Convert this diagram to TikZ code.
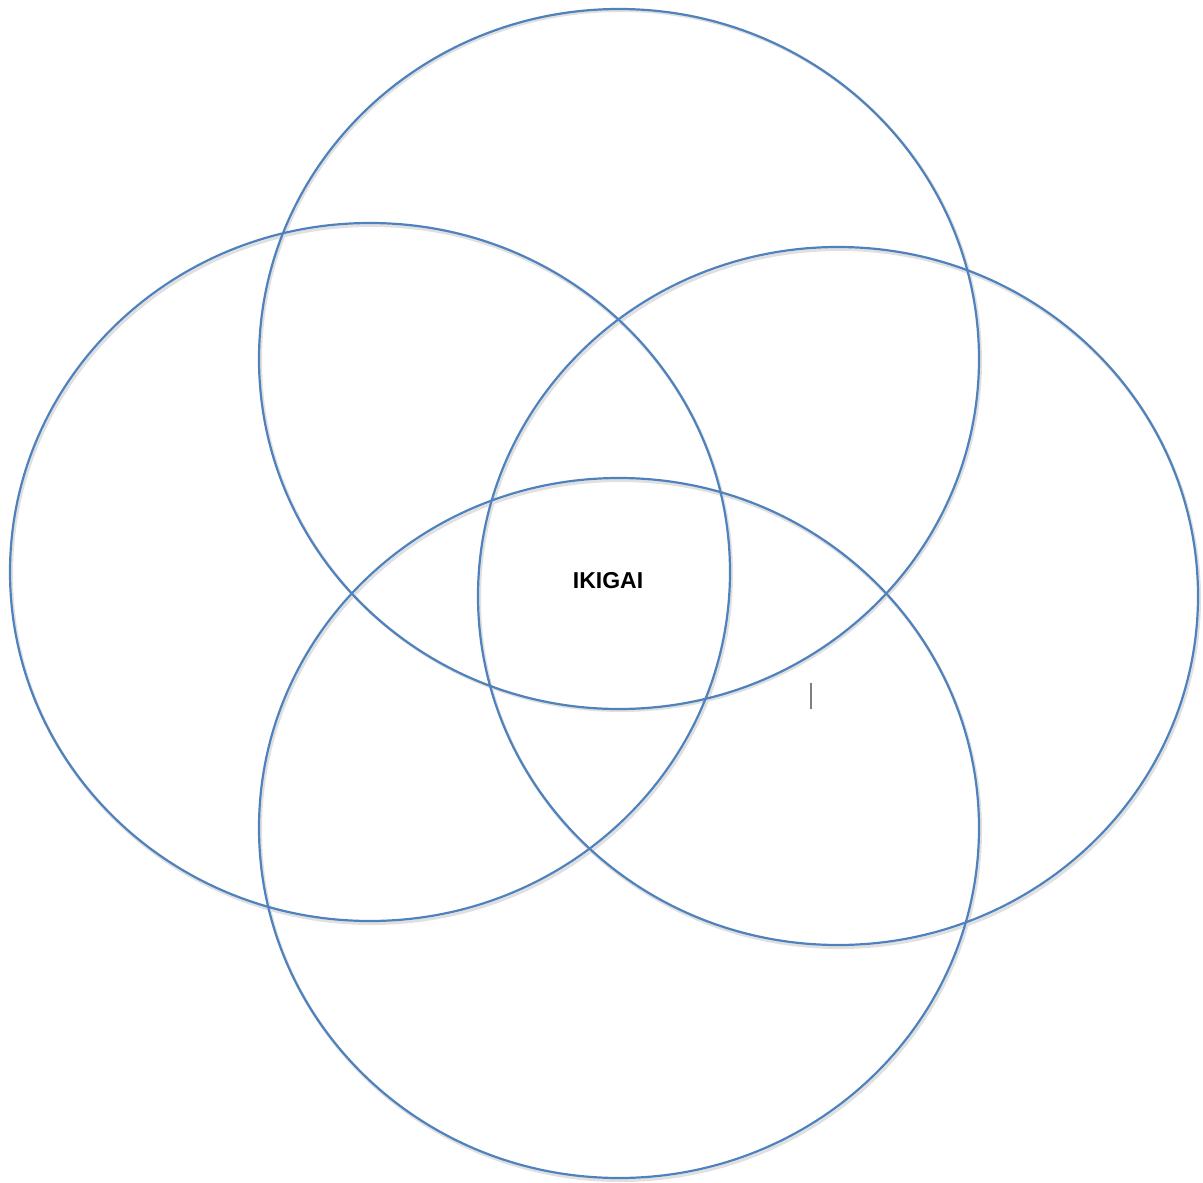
\documentclass[tikz,border=0pt]{standalone}
\usepackage{fontspec}
\setmainfont{Liberation Sans}
\definecolor{ringblue}{HTML}{4F81BD}
\begin{document}
\begin{tikzpicture}[x=1pt,y=-1pt,
  ring/.style={draw=ringblue,line width=2.2pt},
  ringshadow/.style={draw=black!12,line width=3pt},
  label/.style={font=\fontsize{23}{26}\selectfont\bfseries,inner sep=0pt}]
\useasboundingbox (0,0) rectangle (1203,1183);
% shadows
\draw[ringshadow] (620.5,360.5) ellipse [x radius=360,y radius=350];
\draw[ringshadow] (371.5,574.5) ellipse [x radius=360,y radius=349];
\draw[ringshadow] (839.5,598.5) ellipse [x radius=360,y radius=349];
\draw[ringshadow] (620.5,830.5) ellipse [x radius=360,y radius=350];
% rings
\draw[ring] (619,359) ellipse [x radius=360,y radius=350];
\draw[ring] (370,572) ellipse [x radius=360,y radius=349];
\draw[ring] (838,596) ellipse [x radius=360,y radius=349];
\draw[ring] (619,828) ellipse [x radius=360,y radius=350];
\node[label] (ikigai) at (608,581) {IKIGAI};
\coordinate (curtop) at (811,683);
\coordinate (curbot) at (811,709);
\draw[gray,line width=2pt] (curtop) -- (curbot);
\end{tikzpicture}
\end{document}
